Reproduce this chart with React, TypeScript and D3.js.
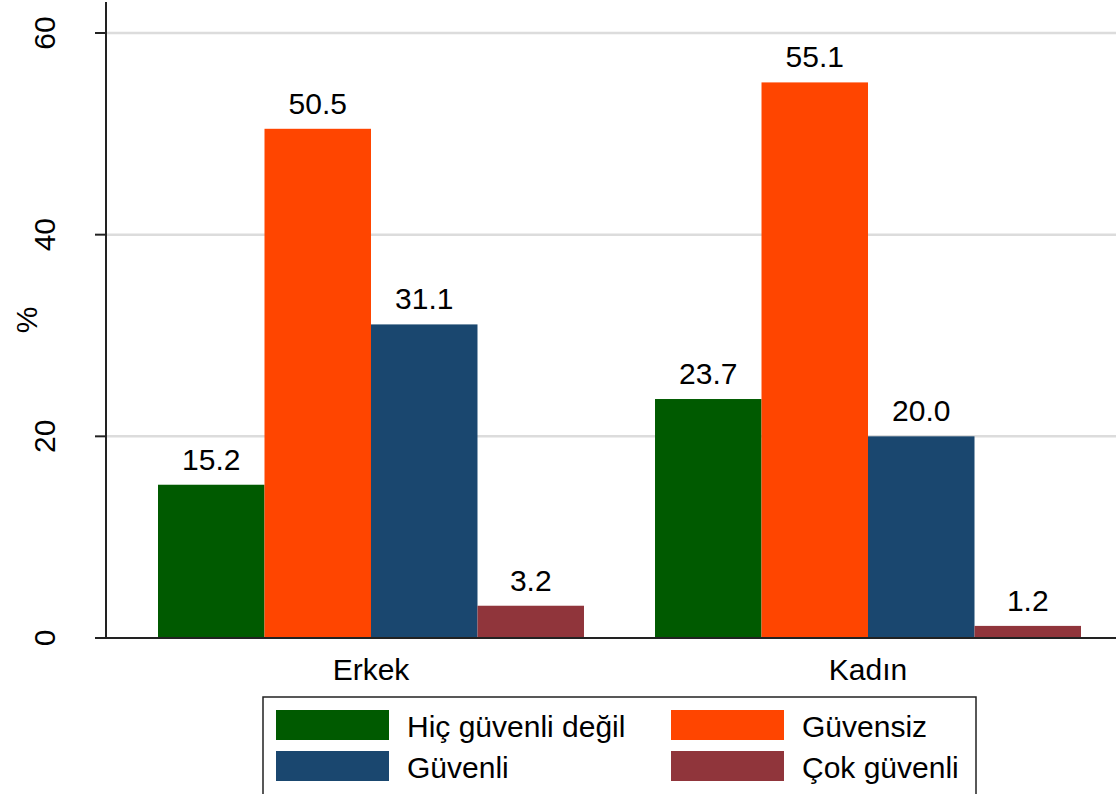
import { useEffect, useRef } from "react";
import * as d3 from "d3";

const groups = ["Erkek", "Kadın"];
const seriesNames = ["Hiç güvenli değil", "Güvensiz", "Güvenli", "Çok güvenli"];
const seriesColors = ["#005a00", "#ff4500", "#1a476f", "#90353b"];
const erkekValues = [15.2, 50.5, 31.1, 3.2];
const kadinValues = [23.7, 55.1, 20.0, 1.2];
const yTicks = [0, 20, 40, 60];

const App = () => {
  const svgRef = useRef<SVGSVGElement | null>(null);

  useEffect(() => {
    document.body.style.margin = "0";
    const svg = d3.select(svgRef.current);
    svg.selectAll("*").remove();

    const width = 1116;
    const height = 794;
    const font = "Liberation Sans, Arial, sans-serif";
    const fs = "30px";
    const axisX = 106;
    const yScale = d3.scaleLinear().domain([0, 60]).range([638, 33]);

    svg.attr("width", width).attr("height", height).style("font-family", font);
    svg.append("rect").attr("width", width).attr("height", height).attr("fill", "white");

    // gridlines
    svg
      .append("g")
      .selectAll("line")
      .data(yTicks.filter((t) => t > 0))
      .enter()
      .append("line")
      .attr("x1", axisX)
      .attr("x2", width)
      .attr("y1", (d) => yScale(d))
      .attr("y2", (d) => yScale(d))
      .attr("stroke", "#dcdcdc")
      .attr("stroke-width", 2.5);

    const x0 = d3.scaleBand<string>().domain(groups).range([158, 1081]).paddingInner(0.1429);
    const x1 = d3.scaleBand<number>().domain(d3.range(seriesNames.length)).range([0, x0.bandwidth()]);

    const table = [erkekValues, kadinValues];

    const grp = svg
      .append("g")
      .selectAll("g")
      .data(groups)
      .enter()
      .append("g")
      .attr("transform", (d) => `translate(${x0(d)},0)`);

    grp
      .selectAll("rect")
      .data((_, i) => table[i])
      .enter()
      .append("rect")
      .attr("x", (_, j) => x1(j)!)
      .attr("width", x1.bandwidth())
      .attr("y", (d) => yScale(d))
      .attr("height", (d) => yScale(0) - yScale(d))
      .attr("fill", (_, j) => seriesColors[j]);

    grp
      .selectAll("text")
      .data((_, i) => table[i])
      .enter()
      .append("text")
      .attr("x", (_, j) => x1(j)! + x1.bandwidth() / 2)
      .attr("y", (d) => yScale(d) - 15)
      .attr("text-anchor", "middle")
      .style("font-size", fs)
      .text((d) => d.toFixed(1));

    // axes
    svg
      .append("line")
      .attr("x1", axisX)
      .attr("x2", axisX)
      .attr("y1", 2)
      .attr("y2", yScale(0))
      .attr("stroke", "#222")
      .attr("stroke-width", 2);
    svg
      .append("line")
      .attr("x1", axisX - 1)
      .attr("x2", width)
      .attr("y1", yScale(0))
      .attr("y2", yScale(0))
      .attr("stroke", "#222")
      .attr("stroke-width", 2);

    const yt = svg.append("g");
    yt.selectAll("line")
      .data(yTicks)
      .enter()
      .append("line")
      .attr("x1", axisX - 11)
      .attr("x2", axisX)
      .attr("y1", (d) => yScale(d))
      .attr("y2", (d) => yScale(d))
      .attr("stroke", "#222")
      .attr("stroke-width", 2);
    yt.selectAll("text")
      .data(yTicks)
      .enter()
      .append("text")
      .attr("transform", (d) => `translate(55,${yScale(d)}) rotate(-90)`)
      .attr("text-anchor", "middle")
      .style("font-size", fs)
      .text((d) => d);

    svg
      .append("text")
      .attr("transform", `translate(37,320) rotate(-90)`)
      .attr("text-anchor", "middle")
      .style("font-size", fs)
      .text("%");

    svg
      .append("g")
      .selectAll("text")
      .data(groups)
      .enter()
      .append("text")
      .attr("x", (d) => x0(d)! + x0.bandwidth() / 2)
      .attr("y", 680)
      .attr("text-anchor", "middle")
      .style("font-size", fs)
      .text((d) => d);

    // legend
    const lg = svg.append("g");
    lg.append("rect")
      .attr("x", 263)
      .attr("y", 697)
      .attr("width", 713)
      .attr("height", 120)
      .attr("fill", "white")
      .attr("stroke", "#222")
      .attr("stroke-width", 1.5);

    const legendCols = [276, 671];
    const legendRows = [710, 751];
    seriesNames.forEach((name, i) => {
      const cx = legendCols[i % 2];
      const cy = legendRows[Math.floor(i / 2)];
      lg.append("rect")
        .attr("x", cx)
        .attr("y", cy)
        .attr("width", 113)
        .attr("height", 30)
        .attr("fill", seriesColors[i]);
      lg.append("text")
        .attr("x", cx + 131)
        .attr("y", cy + 27)
        .style("font-size", fs)
        .text(name);
    });
  }, []);

  return <svg ref={svgRef} style={{ display: "block" }} />;
};

export default App;
